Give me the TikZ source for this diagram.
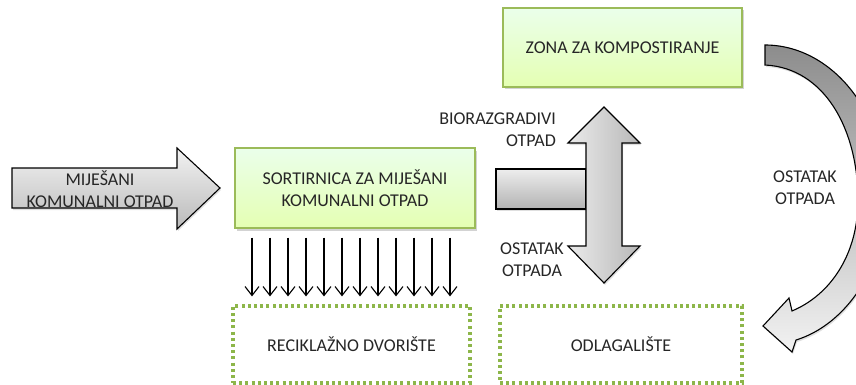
\documentclass[tikz,border=0pt]{standalone}
\usepackage{fontspec}
\setmainfont{Carlito}
\usetikzlibrary{arrows.meta,shadows}
\definecolor{olive}{HTML}{9BBB59}
\definecolor{dotgreen}{HTML}{8DB64A}
\definecolor{txt}{HTML}{262626}
\tikzset{
  lbl/.style={font=\fontsize{18}{22}\selectfont, text=txt, align=center, inner sep=0pt},
  greenbox/.style={draw=olive, line width=1.3pt, top color=green!8!white, bottom color=green!35!yellow!30!white,
     shading angle=0, drop shadow={shadow xshift=1.5pt, shadow yshift=-2.5pt, opacity=0.35},
     font=\fontsize{18}{22}\selectfont, text=txt, align=center, inner sep=0pt},
  dotbox/.style={draw=dotgreen, line width=3.2pt, dash pattern=on 3pt off 3.2pt,
     font=\fontsize{18}{22}\selectfont, text=txt, align=center, inner sep=0pt},
  bigarrow/.style={draw=black, line width=1.1pt, line join=miter,
     drop shadow={shadow xshift=1pt, shadow yshift=-2pt, opacity=0.25}},
  smallarr/.style={-{Straight Barb[length=9pt,width=14pt,line width=1.1pt]}, line width=1.1pt}
}
\begin{document}
\begin{tikzpicture}[x=1pt,y=-1pt]
\useasboundingbox (0,0) rectangle (856,385);
\clip (0,0) rectangle (856,385);

% green boxes
\node[greenbox, minimum width=240pt, minimum height=80pt] (sort) at (355,188) {SORTIRNICA ZA MIJEŠANI\\KOMUNALNI OTPAD};
\node[greenbox, minimum width=239pt, minimum height=79pt] (zona) at (622.5,47.5) {ZONA ZA KOMPOSTIRANJE};

% dotted boxes
\node[dotbox, minimum width=237pt, minimum height=77pt] (rec) at (351.5,344.5) {RECIKLAŽNO DVORIŠTE};
\node[dotbox, minimum width=242pt, minimum height=77pt] (odl) at (621,344.5) {ODLAGALIŠTE};

% left input arrow
\path[bigarrow, top color=white!95!black, bottom color=black!27]
  (12,168) -- (177,168) -- (177,148) -- (220,188) -- (177,229) -- (177,208) -- (12,208) -- cycle;
\node[lbl] (src) at (100,189) {MIJEŠANI\\KOMUNALNI OTPAD};

% horizontal stub
\path[bigarrow, top color=white!93!black, bottom color=black!30]
  (496,169) rectangle (586,209);
% vertical double arrow
\path[bigarrow, left color=white!92!black, right color=black!28]
  (604,107) -- (640,143) -- (622,143) -- (622,246) -- (640,246) -- (604,283)
  -- (568,246) -- (586,246) -- (586,143) -- (568,143) -- cycle;
\node[lbl, anchor=east, align=right] (bio) at (556,130) {BIORAZGRADIVI\\OTPAD};
\node[lbl, anchor=east, align=center] (ost1) at (564,260) {OSTATAK\\OTPADA};

% curved arrow
\path[bigarrow, top color=black!45, bottom color=white!95!black]
  (765,45) .. controls (830,45) and (886,110) .. (886,197)
  .. controls (886,268) and (845,325) .. (796,340)
  -- (792,352) -- (763,326) -- (789,298) -- (792,311)
  .. controls (830,295) and (858,255) .. (858,200)
  .. controls (858,130) and (825,68) .. (765,65) -- cycle;
\node[lbl] (ost2) at (805,188) {OSTATAK\\OTPADA};

% small arrows
\foreach \x in {252,270,288,306,324,342,360,378,396,414,432,450}
  \draw[smallarr, shorten <=9pt, shorten >=8pt] (\x,0 |- sort.south) -- (\x,0 |- rec.north);
\end{tikzpicture}
\end{document}
